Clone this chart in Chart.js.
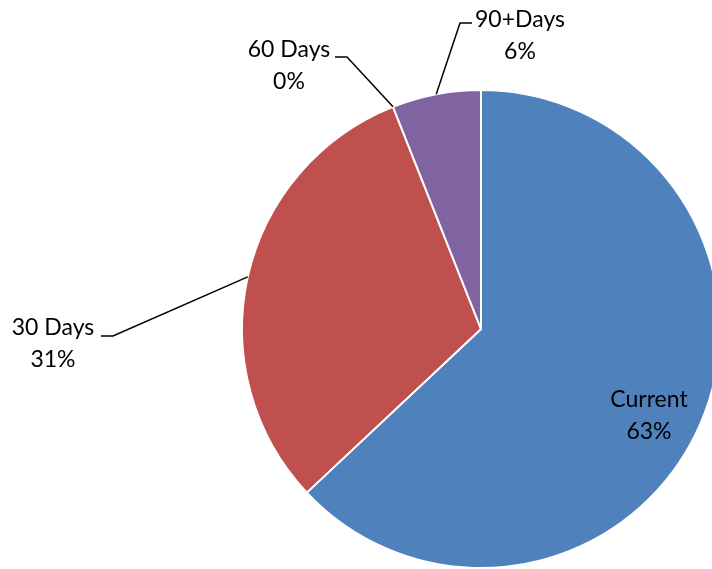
<!DOCTYPE html>
<html>
<head>
<meta charset="utf-8">
<script src="https://cdn.jsdelivr.net/npm/chart.js@4/dist/chart.umd.min.js"></script>
<style>
  html, body { margin: 0; padding: 0; background: #fff; overflow: hidden; }
  #wrap { width: 712px; height: 569px; overflow: hidden; position: relative; }
  canvas { display: block; }
</style>
</head>
<body>
<div id="wrap"><canvas id="grafica" width="962" height="569"></canvas></div>
<script>
const categorias = ['Current', '30 Days', '60 Days', '90+Days'];
const porcentajes = [63, 31, 0, 6];
const colores = ['#4F81BD', '#C0504D', '#9BBB59', '#8064A2'];

// where each label goes: inside the slice, or outside with a leader line (elbow + end)
const etiquetas = [
  { dentro: true, x: 649, y: 400 },
  { x: 53, y: 328, codo: [113, 336], fin: [101, 336] },
  { x: 289, y: 50, codo: [347, 57], fin: [335, 57] },
  { x: 520, y: 20, codo: [460, 23], fin: [472, 23] }
];

const fuente = '23px Lato, "Open Sans", sans-serif';

const etiquetasPlugin = {
  id: 'etiquetas',
  afterDatasetsDraw(chart) {
    const c = chart.ctx;
    const meta = chart.getDatasetMeta(0);
    c.save();
    meta.data.forEach((arc, i) => {
      const e = etiquetas[i];
      const { x, y, startAngle, endAngle, outerRadius } = arc.getProps(['x', 'y', 'startAngle', 'endAngle', 'outerRadius'], true);
      if (!e.dentro) {
        const mid = (startAngle + endAngle) / 2;
        const ax = x + Math.cos(mid) * outerRadius;
        const ay = y + Math.sin(mid) * outerRadius;
        c.beginPath();
        c.moveTo(ax, ay);
        c.lineTo(e.codo[0], e.codo[1]);
        c.lineTo(e.fin[0], e.fin[1]);
        c.strokeStyle = '#000';
        c.lineWidth = 1.5;
        c.stroke();
      }
      c.fillStyle = '#000';
      c.font = fuente;
      c.textAlign = 'center';
      c.textBaseline = 'middle';
      c.fillText(categorias[i], e.x, e.y);
      c.fillText(porcentajes[i] + '%', e.x, e.y + 32);
    });
    c.restore();
  }
};

new Chart(document.getElementById('grafica').getContext('2d'), {
  type: 'pie',
  data: {
    labels: categorias,
    datasets: [{
      data: porcentajes,
      backgroundColor: colores,
      borderColor: '#fff',
      borderWidth: 2
    }]
  },
  options: {
    responsive: false,
    animation: false,
    devicePixelRatio: 1,
    layout: { padding: { top: 89, bottom: 0, left: 0, right: 0 } },
    plugins: {
      legend: { display: false },
      tooltip: { enabled: false }
    }
  },
  plugins: [etiquetasPlugin]
});
</script>
</body>
</html>
